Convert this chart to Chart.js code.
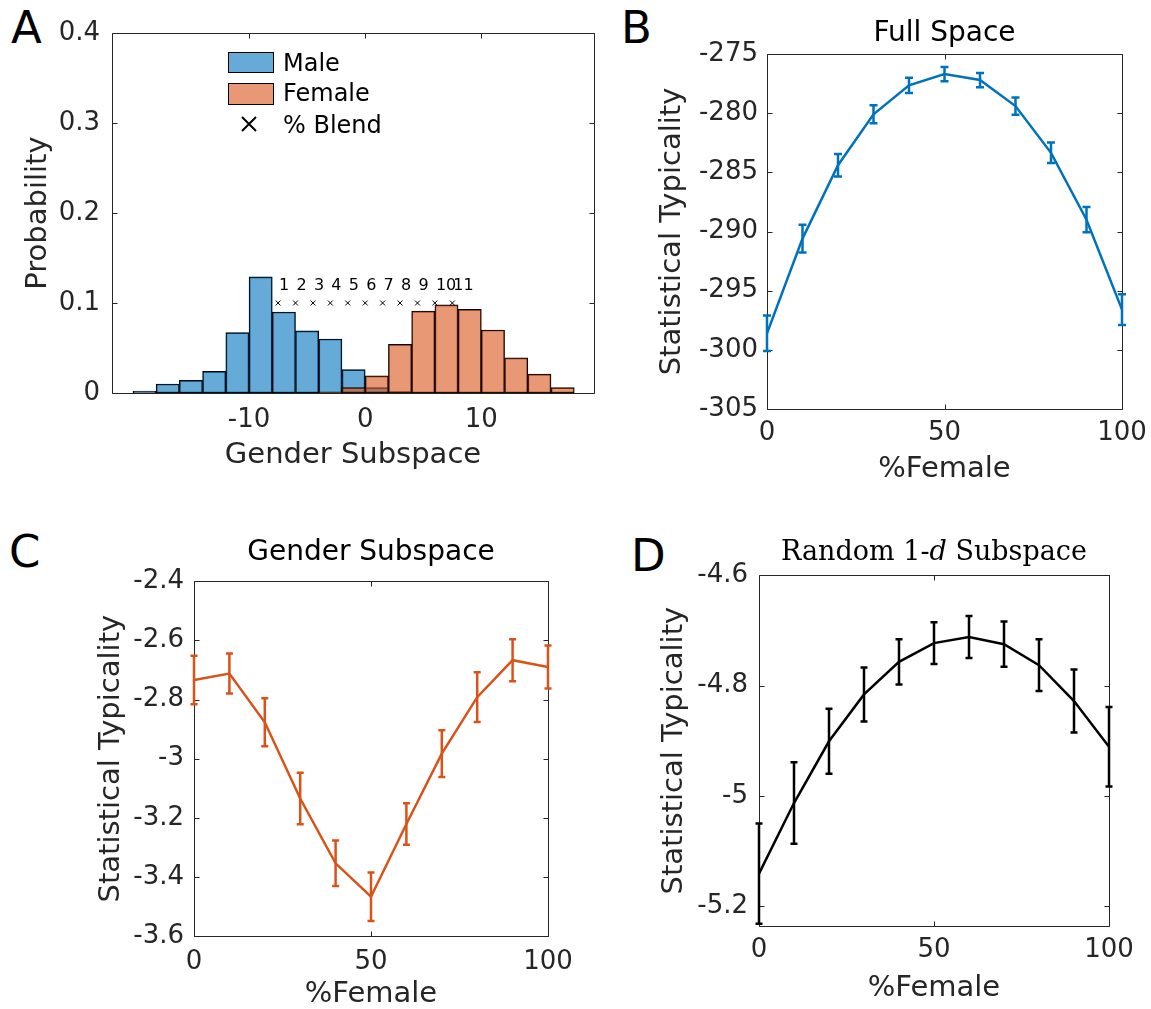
<!DOCTYPE html>
<html>
<head>
<meta charset="utf-8">
<script src="https://cdn.jsdelivr.net/npm/chart.js@4.4.1/dist/chart.umd.min.js"></script>
<style>
  html, body { margin: 0; padding: 0; background: #fff; }
  body { width: 1151px; height: 1009px; position: relative; overflow: hidden; font-family: "DejaVu Sans", sans-serif; }
  canvas { position: absolute; }
  .letter { position: absolute; font-size: 45px; line-height: 1; color: #000; }
  .sw { position: absolute; box-sizing: border-box; border: 1.5px solid #000; }
  .lg { position: absolute; font-size: 24px; line-height: 1; color: #000; white-space: nowrap; }
  .ttl { position: absolute; text-align: center; font-family: "DejaVu Serif", serif; font-size: 27px; line-height: 1; color: #000; }
</style>
</head>
<body>
<div class="letter" style="left:11px;top:5px">A</div>
<div class="letter" style="left:621px;top:5px">B</div>
<div class="letter" style="left:9px;top:529px">C</div>
<div class="letter" style="left:631px;top:533px">D</div>

<canvas id="panelA" width="610" height="500" style="left:0;top:0"></canvas>
<canvas id="panelB" width="570" height="500" style="left:610px;top:0"></canvas>
<canvas id="panelC" width="600" height="509" style="left:0;top:500px"></canvas>
<canvas id="panelD" width="541" height="509" style="left:610px;top:500px"></canvas>

<!-- legend of panel A -->
<div class="sw" style="left:228px;top:52px;width:46px;height:21px;background:rgba(0,114,189,0.6)"></div>
<div class="sw" style="left:228px;top:83px;width:46px;height:22px;background:rgba(217,83,25,0.6)"></div>
<svg style="position:absolute;left:241px;top:116px" width="16" height="16"><path d="M1 1L15 15M15 1L1 15" stroke="#000" stroke-width="2"/></svg>
<div class="lg" style="left:283px;top:51px">Male</div>
<div class="lg" style="left:283px;top:81px">Female</div>
<div class="lg" style="left:283px;top:113px">% Blend</div>

<div class="ttl" style="left:734px;width:400px;top:537px">Random 1-<i>d</i> Subspace</div>

<script>
// panel A: histogram over the gender subspace
const binCenters = [-19, -17, -15, -13, -11, -9, -7, -5, -3, -1, 1, 3, 5, 7, 9, 11, 13, 15, 17];
const maleProb = [0.002, 0.010, 0.014, 0.024, 0.067, 0.129, 0.090, 0.069, 0.060, 0.026, 0.006, 0.0015, null, null, null, null, null, null, null];
const femaleProb = [null, null, null, null, null, null, null, null, 0.001, 0.006, 0.019, 0.054, 0.091, 0.098, 0.093, 0.070, 0.039, 0.021, 0.006];
const blendX = [-7.5, -6, -4.5, -3, -1.5, 0, 1.5, 3, 4.5, 6, 7.5];
const blendProb = [0.1, 0.1, 0.1, 0.1, 0.1, 0.1, 0.1, 0.1, 0.1, 0.1, 0.1];
const blendLabels = ['1', '2', '3', '4', '5', '6', '7', '8', '9', '10', '11'];
const histXTicks = [-10, 0, 10];
const histYTicks = [0, 0.1, 0.2, 0.3, 0.4];

// panels B-D: typicality vs % female
const pctFemale = [0, 10, 20, 30, 40, 50, 60, 70, 80, 90, 100];
const pctTicks = [0, 50, 100];
const fullMean = [-298.6, -290.6, -284.4, -280.1, -277.65, -276.7, -277.2, -279.4, -283.35, -289.0, -296.6];
const fullErr = [1.5, 1.17, 0.95, 0.76, 0.65, 0.6, 0.6, 0.73, 0.87, 1.07, 1.3];
const fullTicks = [-305, -300, -295, -290, -285, -280, -275];
const genderMean = [-2.734, -2.712, -2.877, -3.135, -3.354, -3.467, -3.221, -2.983, -2.792, -2.667, -2.690];
const genderErr = [0.082, 0.068, 0.081, 0.087, 0.077, 0.082, 0.070, 0.079, 0.084, 0.071, 0.073];
const genderTicks = [-3.6, -3.4, -3.2, -3, -2.8, -2.6, -2.4];
const randomMean = [-5.141, -5.013, -4.901, -4.816, -4.757, -4.723, -4.712, -4.725, -4.763, -4.828, -4.911];
const randomErr = [0.091, 0.074, 0.059, 0.049, 0.041, 0.038, 0.038, 0.041, 0.047, 0.057, 0.072];
const randomTicks = [-5.2, -5, -4.8, -4.6];

Chart.defaults.font.family = '"DejaVu Sans", sans-serif';
Chart.defaults.color = '#262626';
Chart.defaults.animation = false;

const fmt = v => String(Number(Number(v).toFixed(3)));
const fixedTicks = values => s => { s.ticks = values.map(v => ({ value: v })); };

// matlab style box with inward ticks on all four sides
const boxTicks = {
  id: 'boxTicks',
  beforeDatasetsDraw(chart) {
    const { ctx, chartArea: a, scales: { x, y } } = chart;
    const L = Math.round(a.left) + 0.5, R = Math.round(a.right) + 0.5;
    const T = Math.round(a.top) + 0.5, B = Math.round(a.bottom) + 0.5;
    ctx.save();
    ctx.strokeStyle = '#262626';
    ctx.lineWidth = 1;
    ctx.beginPath();
    x.ticks.forEach(t => {
      const px = Math.round(x.getPixelForValue(t.value)) + 0.5;
      ctx.moveTo(px, B); ctx.lineTo(px, B - 5);
      ctx.moveTo(px, T); ctx.lineTo(px, T + 5);
    });
    y.ticks.forEach(t => {
      const py = Math.round(y.getPixelForValue(t.value)) + 0.5;
      ctx.moveTo(L, py); ctx.lineTo(L + 5, py);
      ctx.moveTo(R, py); ctx.lineTo(R - 5, py);
    });
    ctx.rect(L, T, R - L, B - T);
    ctx.stroke();
    ctx.restore();
  }
};

const errorBars = {
  id: 'errorBars',
  afterDatasetsDraw(chart, args, opts) {
    const { ctx, chartArea: a, scales: { y } } = chart;
    const ds = chart.data.datasets[0];
    const pts = chart.getDatasetMeta(0).data;
    ctx.save();
    ctx.beginPath();
    ctx.rect(a.left - 20, a.top, a.width + 40, a.height + 1);
    ctx.clip();
    ctx.strokeStyle = ds.borderColor;
    ctx.lineWidth = opts.width;
    ctx.beginPath();
    ds.data.forEach((p, i) => {
      const px = pts[i].x;
      const hi = y.getPixelForValue(p.y + opts.errors[i]);
      const lo = y.getPixelForValue(p.y - opts.errors[i]);
      ctx.moveTo(px, hi); ctx.lineTo(px, lo);
      ctx.moveTo(px - opts.cap, hi); ctx.lineTo(px + opts.cap, hi);
      ctx.moveTo(px - opts.cap, lo); ctx.lineTo(px + opts.cap, lo);
    });
    ctx.stroke();
    ctx.restore();
  }
};

const blendText = {
  id: 'blendText',
  afterDatasetsDraw(chart) {
    const { ctx, scales: { x, y } } = chart;
    ctx.save();
    ctx.font = '16px "DejaVu Sans"';
    ctx.fillStyle = '#000';
    ctx.textAlign = 'left';
    ctx.textBaseline = 'middle';
    blendLabels.forEach((t, i) => {
      ctx.fillText(t, x.getPixelForValue(blendX[i]) + 1, y.getPixelForValue(blendProb[i]) - 17);
    });
    ctx.restore();
  }
};

new Chart(document.getElementById('panelA'), {
  type: 'bar',
  data: {
    datasets: [
      {
        label: 'Male',
        data: binCenters.map((c, i) => ({ x: c, y: maleProb[i] })),
        backgroundColor: 'rgba(0,114,189,0.6)',
        borderColor: '#000', borderWidth: 1, borderSkipped: false,
        grouped: false, barPercentage: 1, categoryPercentage: 1, order: 2
      },
      {
        label: 'Female',
        data: binCenters.map((c, i) => ({ x: c, y: femaleProb[i] })),
        backgroundColor: 'rgba(217,83,25,0.6)',
        borderColor: '#000', borderWidth: 1, borderSkipped: false,
        grouped: false, barPercentage: 1, categoryPercentage: 1, order: 1
      },
      {
        type: 'line',
        label: '% Blend',
        data: blendX.map((b, i) => ({ x: b, y: blendProb[i] })),
        showLine: false, pointStyle: 'crossRot', pointRadius: 3.5,
        borderColor: '#000', borderWidth: 1, order: 0
      }
    ]
  },
  options: {
    responsive: false,
    layout: { padding: { left: 0, top: 33, right: 16, bottom: 0 } },
    plugins: { legend: { display: false }, tooltip: { enabled: false } },
    scales: {
      x: {
        type: 'linear', offset: false, min: -21.8, max: 19.7,
        grid: { display: false, drawTicks: false }, border: { display: false },
        afterBuildTicks: fixedTicks(histXTicks),
        afterFit: s => { s.height = 107; },
        ticks: { font: { size: 26 }, padding: 12, maxRotation: 0, autoSkip: false, callback: fmt },
        title: { display: true, text: 'Gender Subspace', font: { size: 29, lineHeight: 1 }, padding: { top: 0, bottom: 30.5 } }
      },
      y: {
        min: 0, max: 0.4,
        grid: { display: false, drawTicks: false }, border: { display: false },
        afterBuildTicks: fixedTicks(histYTicks),
        afterFit: s => { s.width = 112; },
        ticks: { font: { size: 26 }, padding: 12, autoSkip: false, callback: fmt },
        title: { display: true, text: 'Probability', font: { size: 29, lineHeight: 1 }, padding: { top: 23.5, bottom: 0 } }
      }
    }
  },
  plugins: [boxTicks, blendText]
});

function lineChart(id, p) {
  return new Chart(document.getElementById(id), {
    type: 'line',
    data: {
      datasets: [{
        data: pctFemale.map((v, i) => ({ x: v, y: p.mean[i] })),
        borderColor: p.color, borderWidth: 2.5, pointRadius: 0, tension: 0
      }]
    },
    options: {
      responsive: false,
      layout: { padding: { left: 0, top: p.padTop, right: p.padRight, bottom: 0 } },
      plugins: {
        legend: { display: false }, tooltip: { enabled: false },
        title: p.title ? {
          display: true, text: p.title, fullSize: false, color: '#000',
          font: { size: 28, weight: 'normal', lineHeight: 1 }, padding: p.titlePad
        } : { display: false },
        errorBars: { errors: p.err, cap: p.cap, width: 2.5 }
      },
      scales: {
        x: {
          type: 'linear', min: 0, max: 100,
          grid: { display: false, drawTicks: false }, border: { display: false },
          afterBuildTicks: fixedTicks(pctTicks),
          afterFit: s => { s.height = p.xHeight; },
          ticks: { font: { size: 26 }, padding: p.xTickPad, maxRotation: 0, autoSkip: false, callback: fmt },
          title: { display: true, text: '%Female', font: { size: 29, lineHeight: 1 }, padding: { top: 0, bottom: p.xTitlePad } }
        },
        y: {
          min: p.yMin, max: p.yMax,
          grid: { display: false, drawTicks: false }, border: { display: false },
          afterBuildTicks: fixedTicks(p.yTicks),
          afterFit: s => { s.width = p.yWidth; },
          ticks: { font: { size: 26 }, padding: p.yTickPad, autoSkip: false, callback: fmt },
          title: { display: true, text: 'Statistical Typicality', font: { size: 29, lineHeight: 1 }, padding: { top: p.yTitlePad, bottom: 0 } }
        }
      }
    },
    plugins: [boxTicks, errorBars]
  });
}

lineChart('panelB', {
  mean: fullMean, err: fullErr, color: '#0072BD', cap: 4,
  title: 'Full Space', titlePad: { top: 19.5, bottom: 6.5 },
  padTop: 0, padRight: 58, xHeight: 91, yWidth: 157,
  yMin: -305, yMax: -275, yTicks: fullTicks,
  xTickPad: 9, xTitlePad: 16, yTickPad: 9, yTitlePad: 48
});

lineChart('panelC', {
  mean: genderMean, err: genderErr, color: '#D95319', cap: 3.5,
  title: 'Gender Subspace', titlePad: { top: 39, bottom: 14.3 },
  padTop: 0, padRight: 52, xHeight: 73, yWidth: 194,
  yMin: -3.6, yMax: -2.4, yTicks: genderTicks,
  xTickPad: 10.5, xTitlePad: 0, yTickPad: 10, yTitlePad: 97
});

lineChart('panelD', {
  mean: randomMean, err: randomErr, color: '#000000', cap: 3.5,
  title: null,
  padTop: 75.3, padRight: 42, xHeight: 83, yWidth: 149,
  yMin: -5.236, yMax: -4.6, yTicks: randomTicks,
  xTickPad: 9, xTitlePad: 6.5, yTickPad: 11, yTitlePad: 49.5
});
</script>
</body>
</html>
